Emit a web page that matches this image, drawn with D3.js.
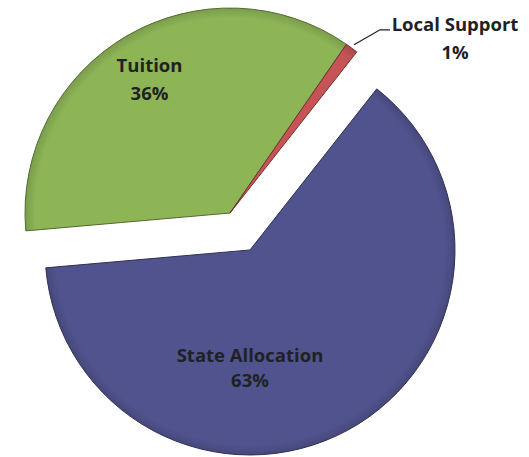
<!DOCTYPE html>
<html>
<head>
<meta charset="utf-8">
<script src="https://cdn.jsdelivr.net/npm/d3@7/dist/d3.min.js"></script>
<style>
  html, body { margin: 0; padding: 0; background: #fff; }
  svg { display: block; }
  text { font-family: "Open Sans", "DejaVu Sans", sans-serif; font-weight: bold; fill: #1e2224; }
</style>
</head>
<body>
<div id="chart"></div>
<script>
    //data
    var categories = ['Tuition', 'Local Support', 'State Allocation'];
    var shares = [36, 1, 63];
    var shareLabels = ['36%', '1%', '63%'];

    //colours
    var $green = '#8db556';
    var $red = '#c65456';
    var $blue = '#51538e';
    var colours = [$green, $red, $blue];

    var width = 529;
    var height = 457;
    var radius = 205;
    var cx = 240;
    var cy = 231.5;
    var explode = 21;
    var rad = Math.PI / 180;
    var fontSize = 18.5;

    var svg = d3.select('#chart').append('svg')
        .attr('width', width)
        .attr('height', height);

    //bevel gradients, centred on each slice apex
    var defs = svg.append('defs');
    colours.forEach(function(c, i) {
        var g = defs.append('radialGradient')
            .attr('id', 'shade-' + i)
            .attr('gradientUnits', 'userSpaceOnUse')
            .attr('cx', 0).attr('cy', 0).attr('r', radius);
        g.append('stop').attr('offset', '0%').attr('stop-color', c);
        g.append('stop').attr('offset', '95%').attr('stop-color', c);
        g.append('stop').attr('offset', '100%').attr('stop-color', d3.color(c).darker(0.4));
    });

    var pie = d3.pie()
        .sort(null)
        .startAngle(265 * rad)
        .endAngle(625 * rad);

    var arcs = pie(shares);

    var arc = d3.arc()
        .innerRadius(0)
        .outerRadius(radius);

    //Tuition and Local Support are pulled out together, State Allocation the other way
    var groupMid = (arcs[0].startAngle + arcs[1].endAngle) / 2;
    function offset(i) {
        var a = i < 2 ? groupMid : (arcs[2].startAngle + arcs[2].endAngle) / 2;
        return [cx + explode * Math.sin(a), cy - explode * Math.cos(a)];
    }

    var slices = svg.selectAll('g.slice')
        .data(arcs)
        .enter().append('g')
        .attr('class', 'slice')
        .attr('transform', function(d, i) {
            var o = offset(i);
            return 'translate(' + o[0] + ',' + o[1] + ')';
        });

    slices.append('path')
        .attr('d', arc)
        .attr('fill', function(d, i) { return 'url(#shade-' + i + ')'; })
        .attr('stroke', function(d, i) { return d3.color(colours[i]).darker(1.5); })
        .attr('stroke-width', 1)
        .attr('stroke-linejoin', 'round');

    //inside labels: polar position from the slice apex
    var inside = [
        {i: 0, r: 160, a: (arcs[0].startAngle + arcs[0].endAngle) / 2},
        {i: 2, r: 115, a: 180 * rad}
    ];

    inside.forEach(function(p) {
        var o = offset(p.i);
        var x = o[0] + p.r * Math.sin(p.a);
        var y = o[1] - p.r * Math.cos(p.a);
        var t = svg.append('text')
            .attr('text-anchor', 'middle')
            .attr('font-size', fontSize)
            .attr('x', x)
            .attr('y', y - 3);
        t.append('tspan').attr('x', x).text(categories[p.i]);
        t.append('tspan').attr('x', x).attr('dy', p.i === 0 ? 28 : 25).text(shareLabels[p.i]);
    });

    //outside label with leader line for Local Support
    var ls = arcs[1];
    var lsMid = (ls.startAngle + ls.endAngle) / 2;
    var lo = offset(1);
    var p0 = [lo[0] + (radius + 4) * Math.sin(lsMid), lo[1] - (radius + 4) * Math.cos(lsMid)];
    var p1 = [p0[0] + 26, p0[1] - 15];
    var p2 = [p1[0] + 10, p1[1]];

    svg.append('path')
        .attr('d', d3.line()([p0, p1, p2]))
        .attr('fill', 'none')
        .attr('stroke', '#1e2224')
        .attr('stroke-width', 1.3);

    var lt = svg.append('text')
        .attr('text-anchor', 'middle')
        .attr('font-size', fontSize)
        .attr('x', p2[0] + 65)
        .attr('y', p2[1] + 1);
    lt.append('tspan').attr('x', p2[0] + 65).text(categories[1]);
    lt.append('tspan').attr('x', p2[0] + 65).attr('dy', 28).text(shareLabels[1]);
</script>
</body>
</html>
